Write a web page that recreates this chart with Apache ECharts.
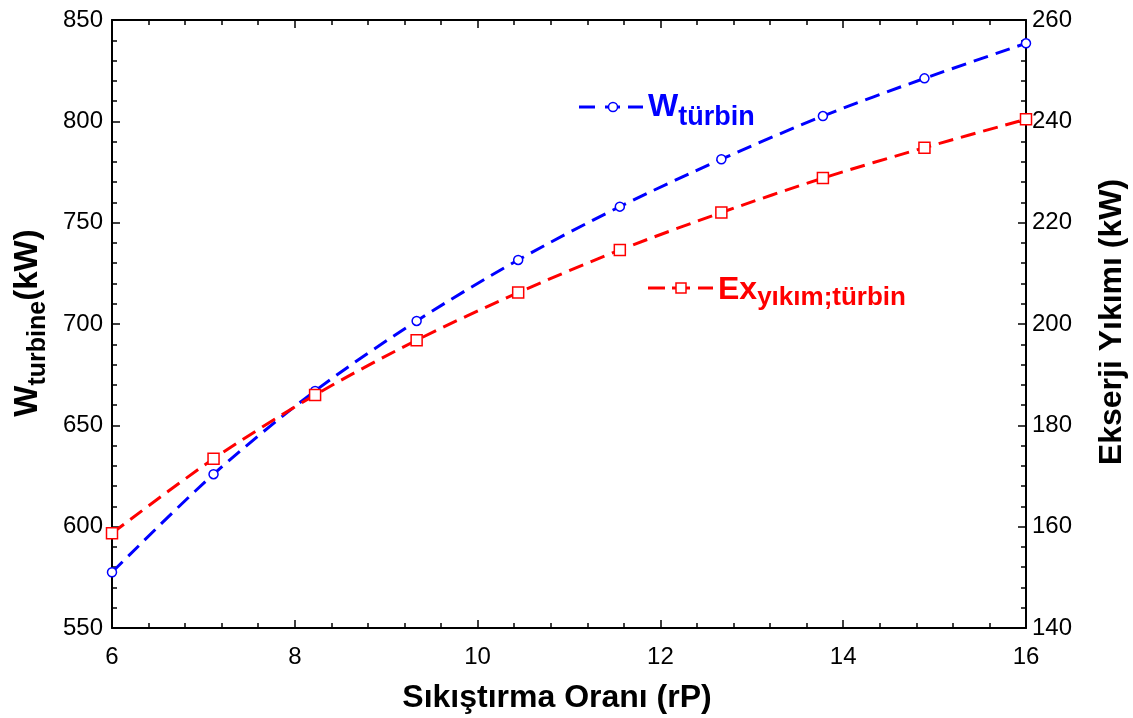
<!DOCTYPE html>
<html>
<head>
<meta charset="utf-8">
<script src="https://cdn.jsdelivr.net/npm/echarts@6/dist/echarts.min.js"></script>
<style>
  html, body { margin: 0; padding: 0; background: #ffffff; }
  #chart { width: 1133px; height: 718px; }
</style>
</head>
<body>
<div id="chart"></div>
<script>
// Compression ratio (rP) sample points
const pressureRatio = [6, 7.111, 8.222, 9.333, 10.444, 11.556, 12.667, 13.778, 14.889, 16];
// Turbine work, kW (left axis)
const turbineWork = [577.5, 625.9, 667.0, 701.5, 731.6, 757.9, 781.3, 802.6, 821.2, 838.5];
// Turbine exergy destruction, kW (right axis)
const turbineExergyDestruction = [158.7, 173.4, 186.0, 196.8, 206.2, 214.6, 222.0, 228.8, 234.8, 240.4];

// Axis ranges and tick steps
const xRange = [6, 16, 2];
const leftRange = [550, 850, 50];
const rightRange = [140, 260, 20];

const FONT = '"Liberation Sans", Arial, Helvetica, sans-serif';
const BLUE = '#0000ff';
const RED = '#ff0000';

const chart = echarts.init(document.getElementById('chart'), null, { renderer: 'canvas' });

// text measuring for the hand-placed subscript titles
const mctx = document.createElement('canvas').getContext('2d');
function textWidth(str, size, weight) {
  mctx.font = (weight || 'bold') + ' ' + size + 'px ' + FONT;
  return mctx.measureText(str).width;
}

// Builds text pieces laid out along a baseline; each part: {text, size, drop}
function runText(parts, color) {
  let x = 0;
  const out = [];
  parts.forEach(p => {
    out.push({
      type: 'text',
      x: x,
      y: (p.drop || 0) - 0.31 * p.size,
      silent: true,
      style: {
        text: p.text,
        fill: color,
        fontSize: p.size,
        fontWeight: 'bold',
        fontFamily: FONT,
        align: 'left',
        verticalAlign: 'middle'
      }
    });
    x += textWidth(p.text, p.size);
  });
  return { children: out, length: x };
}

const leftTitle = runText([
  { text: 'W', size: 33 },
  { text: 'turbine', size: 25, drop: 8 },
  { text: '(kW)', size: 33 }
], '#000');
const rightTitle = runText([{ text: 'Ekserji Yıkımı (kW)', size: 32 }], '#000');
const xTitle = runText([{ text: 'Sıkıştırma Oranı (rP)', size: 32 }], '#000');
const wLegendText = runText([
  { text: 'W', size: 32 },
  { text: 'türbin', size: 27, drop: 9 }
], BLUE);
const exLegendText = runText([
  { text: 'Ex', size: 32 },
  { text: 'yıkım;türbin', size: 26, drop: 6 }
], RED);

function axisCommon(range) {
  return {
    type: 'value',
    min: range[0],
    max: range[1],
    interval: range[2],
    axisLine: { show: true, onZero: false, lineStyle: { color: '#000', width: 2 } },
    axisTick: { show: true, inside: true, length: 8, lineStyle: { color: '#000', width: 1.5 } },
    minorTick: { show: true, splitNumber: 5, length: 5, lineStyle: { color: '#000', width: 1.5 } },
    splitLine: { show: false },
    minorSplitLine: { show: false },
    axisLabel: { color: '#000', fontSize: 24, fontFamily: FONT }
  };
}

const xBottom = axisCommon(xRange);
xBottom.position = 'bottom';
xBottom.axisLabel.margin = 17;
const xTop = axisCommon(xRange);
xTop.position = 'top';
xTop.axisLabel = { show: false };

const yLeft = axisCommon(leftRange);
yLeft.position = 'left';
yLeft.axisLabel.margin = 9;
const yRight = axisCommon(rightRange);
yRight.position = 'right';
yRight.axisLabel.margin = 6;

const dash = [15, 8];

chart.setOption({
  backgroundColor: '#ffffff',
  animation: false,
  grid: { left: 112, right: 107, top: 20, bottom: 90, containLabel: false },
  xAxis: [xBottom, xTop],
  yAxis: [yLeft, yRight],
  series: [
    {
      name: 'W türbin',
      type: 'line',
      xAxisIndex: 0,
      yAxisIndex: 0,
      data: pressureRatio.map((r, i) => [r, turbineWork[i]]),
      smooth: 0.3,
      symbol: 'circle',
      symbolSize: 9,
      showAllSymbol: true,
      clip: true,
      lineStyle: { color: BLUE, width: 3, type: dash },
      itemStyle: { color: '#ffffff', borderColor: BLUE, borderWidth: 1.5 },
      emphasis: { disabled: true },
      z: 2
    },
    {
      name: 'Ex yıkım;türbin',
      type: 'line',
      xAxisIndex: 0,
      yAxisIndex: 1,
      data: pressureRatio.map((r, i) => [r, turbineExergyDestruction[i]]),
      smooth: 0.3,
      symbol: 'rect',
      symbolSize: 11,
      showAllSymbol: true,
      clip: true,
      lineStyle: { color: RED, width: 3, type: dash },
      itemStyle: { color: '#ffffff', borderColor: RED, borderWidth: 1.5 },
      emphasis: { disabled: true },
      z: 3
    }
  ],
  graphic: [
    // axis titles (rotated groups read bottom to top)
    {
      type: 'group',
      x: 38, y: 323 + leftTitle.length / 2,
      rotation: Math.PI / 2,
      children: leftTitle.children
    },
    {
      type: 'group',
      x: 1122, y: 322 + rightTitle.length / 2,
      rotation: Math.PI / 2,
      children: rightTitle.children
    },
    {
      type: 'group',
      x: 557 - xTitle.length / 2, y: 708,
      children: xTitle.children
    },
    // inline legend: turbine work
    { type: 'line', shape: { x1: 579, y1: 107, x2: 595, y2: 107 }, style: { stroke: BLUE, lineWidth: 3 } },
    { type: 'line', shape: { x1: 605, y1: 107, x2: 620, y2: 107 }, style: { stroke: BLUE, lineWidth: 3 } },
    { type: 'line', shape: { x1: 628, y1: 107, x2: 643, y2: 107 }, style: { stroke: BLUE, lineWidth: 3 } },
    { type: 'circle', shape: { cx: 613, cy: 107, r: 4.5 }, style: { fill: '#fff', stroke: BLUE, lineWidth: 1.5 } },
    { type: 'group', x: 648, y: 117, children: wLegendText.children },
    // inline legend: turbine exergy destruction
    { type: 'line', shape: { x1: 648, y1: 288, x2: 665, y2: 288 }, style: { stroke: RED, lineWidth: 3 } },
    { type: 'line', shape: { x1: 672, y1: 288, x2: 690, y2: 288 }, style: { stroke: RED, lineWidth: 3 } },
    { type: 'line', shape: { x1: 698, y1: 288, x2: 713, y2: 288 }, style: { stroke: RED, lineWidth: 3 } },
    { type: 'rect', shape: { x: 676, y: 283, width: 10, height: 10 }, style: { fill: '#fff', stroke: RED, lineWidth: 1.5 } },
    { type: 'group', x: 718, y: 300, children: exLegendText.children }
  ]
});
</script>
</body>
</html>
